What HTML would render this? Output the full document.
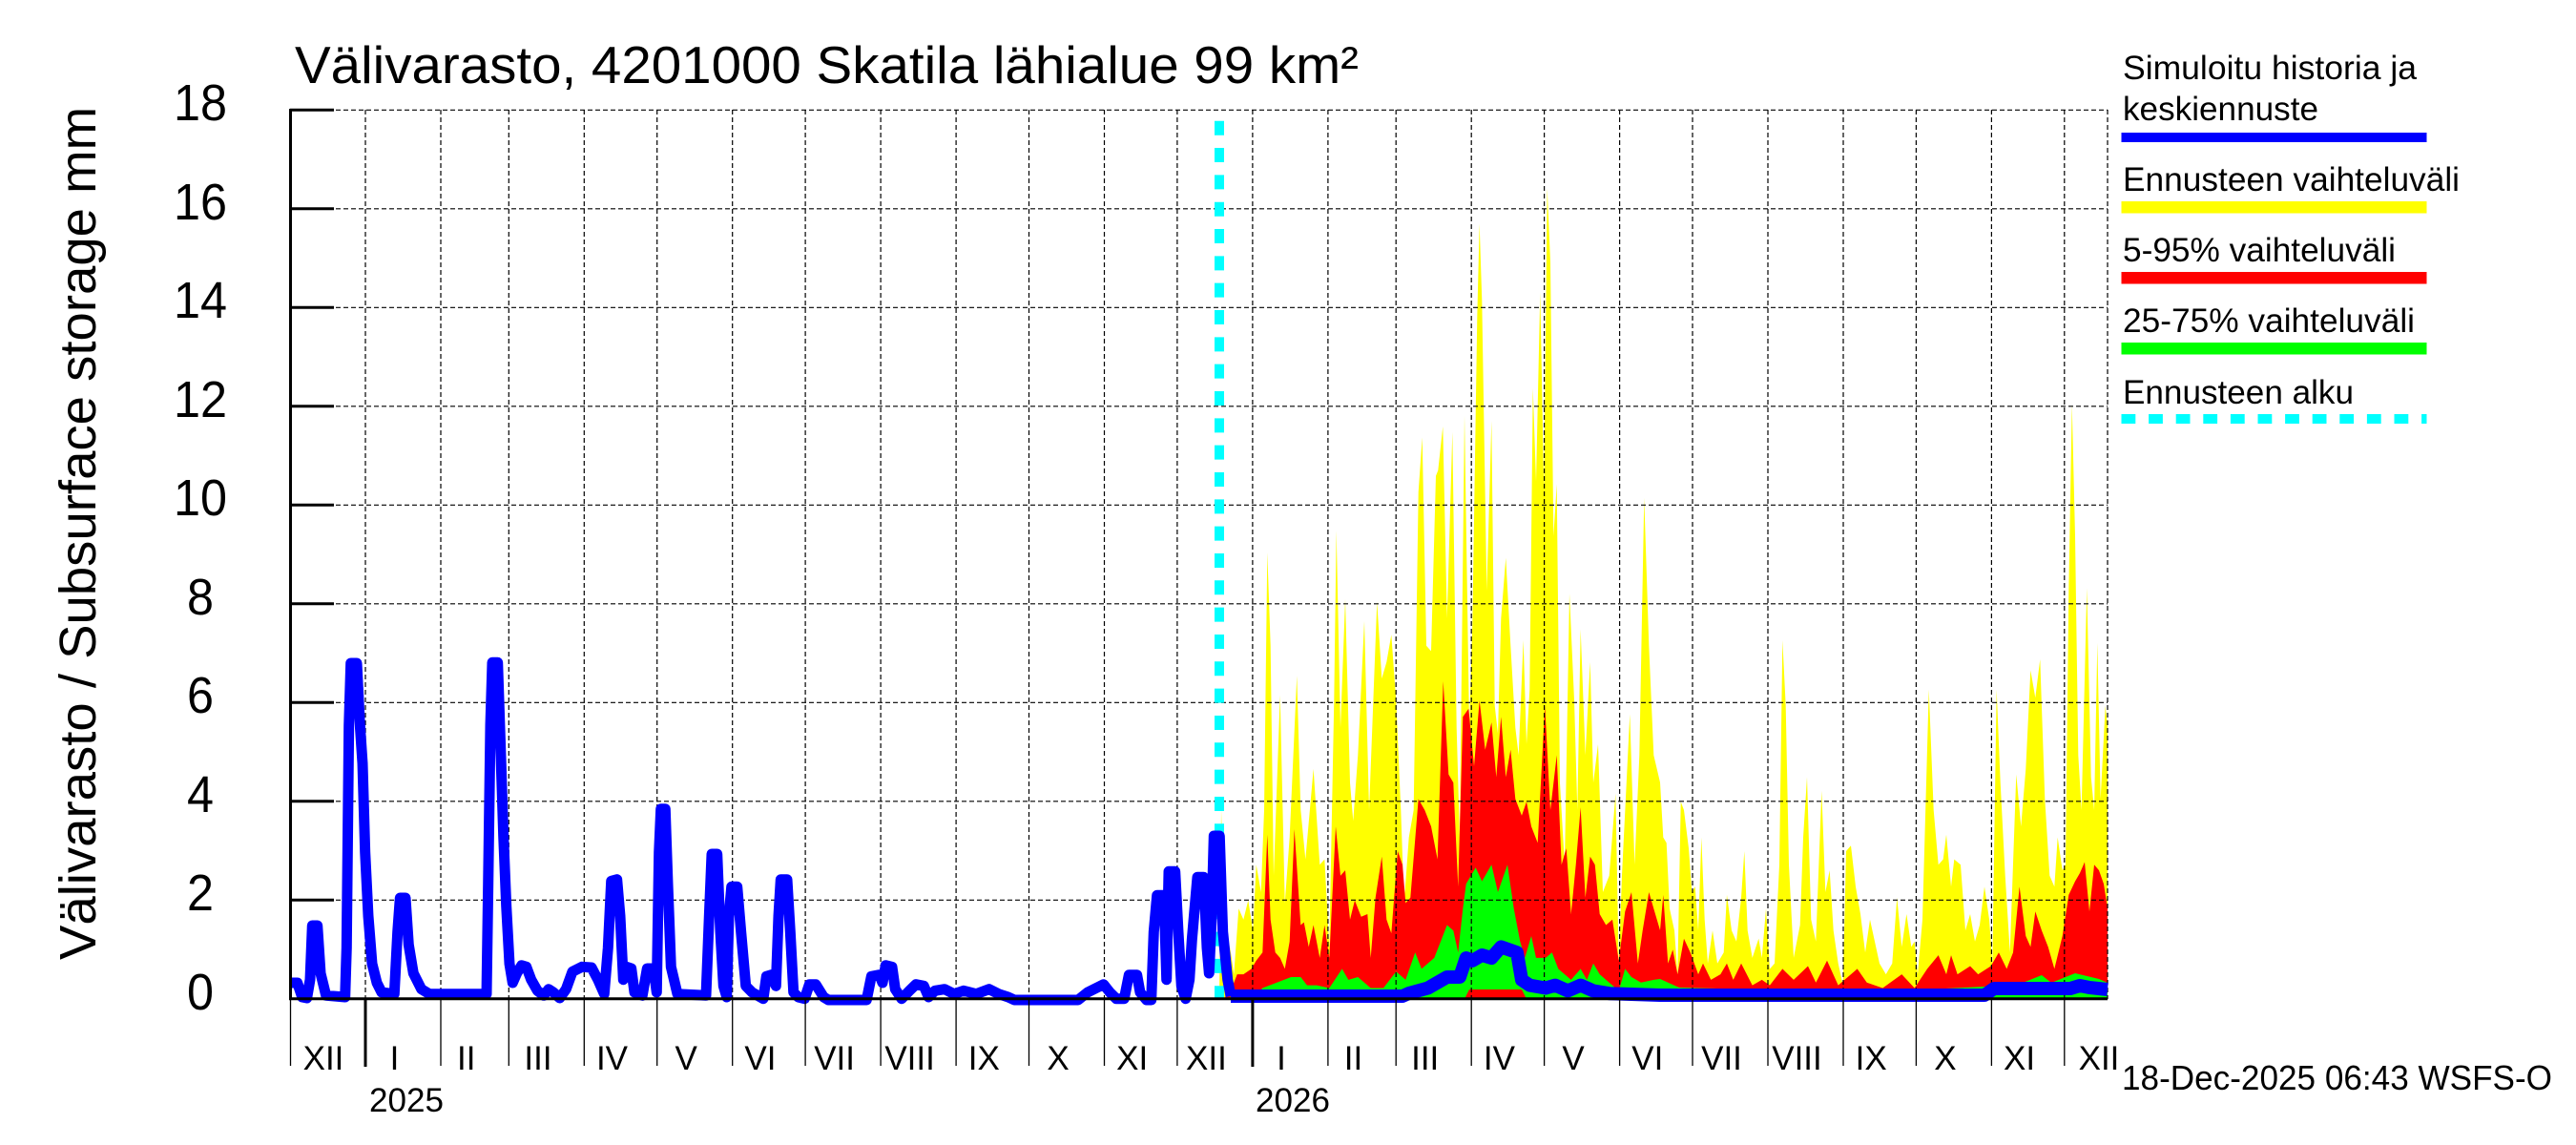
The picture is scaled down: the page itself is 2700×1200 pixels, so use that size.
<!DOCTYPE html>
<html><head><meta charset="utf-8"><style>
html,body{margin:0;padding:0;background:#fff;}
svg{display:block;}
text{font-family:"Liberation Sans",Arial,sans-serif;fill:#000;}
</style></head><body>
<svg width="2700" height="1200" viewBox="0 0 2700 1200" xmlns="http://www.w3.org/2000/svg">
<rect width="2700" height="1200" fill="#fff"/>

<!-- forecast bands -->
<path fill="#ffff00" d="M1278,1047 L1280,849 L1283.3,963.7 L1290,998.2 L1293.3,1021.1 L1298.3,952.3 L1303.3,963.7 L1308.3,943.6 L1313.3,975.2 L1316.7,906.3 L1321.7,935 L1325,849 L1328.3,579.1 L1331.7,676.7 L1335,917.8 L1341.7,728.4 L1346.7,946.5 L1351.7,877.6 L1359.3,708.3 L1363.3,849 L1368.3,900.6 L1376.7,805.9 L1383.3,906.3 L1388.3,900.6 L1393.3,992.4 L1398.3,734.1 L1400.7,556.1 L1405,762.8 L1410,627.9 L1415,820.2 L1418.3,860.4 L1423.3,791.5 L1430,650.9 L1435,849 L1438.3,762.8 L1443.3,630.8 L1448.3,711.1 L1453.3,693.9 L1458.3,665.2 L1463.3,734.1 L1468.3,849 L1471.7,946.5 L1476.7,877.6 L1481.7,849 L1486.7,515.9 L1490.7,458.5 L1495,676.7 L1500,682.4 L1505,498.7 L1507.3,493 L1512.3,447 L1516.7,648 L1522.3,452.8 L1526.7,762.8 L1530,877.6 L1535,435.6 L1540,762.8 L1543.3,653.7 L1548.3,332.2 L1550.7,234.6 L1553.3,315 L1558.3,619.3 L1563.3,441.3 L1566.7,739.8 L1570,768.5 L1573.3,648 L1578.3,584.8 L1583.3,676.7 L1588.3,762.8 L1591.7,791.5 L1596.7,671 L1600,780 L1603.3,722.6 L1606.7,406.9 L1610,504.5 L1614.3,306.4 L1618.3,515.9 L1621.7,197.3 L1625,274.8 L1628.3,561.9 L1631.7,507.3 L1635,820.2 L1640,906.3 L1645,622.2 L1650,734.1 L1653.3,849 L1656.7,659.5 L1661.7,791.5 L1666.7,693.9 L1670,820.2 L1675,780 L1680,935 L1686.7,917.8 L1693.3,831.7 L1696.7,1009.7 L1700,917.8 L1708.3,748.5 L1713.3,906.3 L1718.3,791.5 L1723.3,521.7 L1728.3,676.7 L1733.3,791.5 L1740,820 L1743.3,877.6 L1746.7,883.4 L1750,952.3 L1755,975.2 L1758.3,1021.1 L1761.7,840.3 L1765,849 L1770,889.1 L1773.3,935 L1776.7,929.3 L1780,975.2 L1783.3,877.6 L1786.7,963.7 L1790,1009.7 L1795,975.2 L1800,1009.7 L1806.7,998.2 L1810,937.9 L1815,975.2 L1820,986.7 L1825,940.8 L1828.3,892 L1831.7,975.2 L1836.7,1003.9 L1843.3,983.8 L1846.7,1003.9 L1851,952.3 L1855,1015.4 L1860,1009.7 L1865,906.3 L1868.3,671 L1871.7,739.8 L1875,906.3 L1880,1003.9 L1886.7,969.5 L1890,877.6 L1894,814.5 L1898.3,963.7 L1903.3,986.7 L1909.3,828.8 L1913.3,935 L1917.7,912.1 L1921.7,975.2 L1926.7,1009.7 L1931.7,1032.6 L1935,892 L1940,886.2 L1945,929.3 L1950,958 L1955,998.2 L1960,963.7 L1965,986.7 L1970,1009.7 L1976.7,1021.1 L1983.3,1009.7 L1988.3,940.8 L1993.3,992.4 L1998.3,958 L2003.3,992.4 L2006.7,986.7 L2010,1021.1 L2015,963.7 L2021.7,722.6 L2026.7,849 L2031.7,906.3 L2036.7,900.6 L2040,874.7 L2045,929.3 L2048.3,900.6 L2055,906.3 L2060,975.2 L2065,958 L2070,986.7 L2075,969.5 L2080,929.3 L2085,963.7 L2088.3,1009.7 L2092.7,722.6 L2096.7,820.2 L2101.7,917.8 L2106.7,998.2 L2113.3,811.6 L2118.3,866.1 L2123.3,805.9 L2128.3,702.5 L2133.3,731.2 L2138.3,691 L2143.3,837.4 L2148.3,917.8 L2153.3,929.3 L2156.7,877.6 L2161.7,912.1 L2165,906.3 L2168.3,619.3 L2171.7,424.1 L2175,561.9 L2178.3,791.5 L2181.7,849 L2187.3,616.4 L2191.7,814.5 L2195,849 L2198.3,673.8 L2201.7,837.4 L2206.7,739.8 L2209,760 L2209,1047 Z"/>

<path fill="#ff0000" d="M1284,1047 L1286,1035 L1290,1038.4 L1296.7,1021.1 L1303.3,1021.1 L1311.7,1015.4 L1316.7,1006.8 L1323.3,998.2 L1328.3,874.7 L1331.7,963.7 L1336.7,998.2 L1341.7,1003.9 L1346.7,1015.4 L1351.7,986.7 L1356.7,869 L1363.3,969.5 L1366.7,966.6 L1371.7,992.4 L1376.7,969.5 L1383.3,1003.9 L1388.3,969.5 L1393.3,1003.9 L1400,866.1 L1405,917.8 L1410,912.1 L1415,963.7 L1420,943.6 L1426.7,960.8 L1433.3,958 L1436.7,1003.9 L1441.7,940.8 L1448.3,897.7 L1453.3,963.7 L1458.3,978.1 L1465,892 L1470,906.3 L1473.3,946.5 L1478.3,940.8 L1486.7,837.4 L1493.3,849 L1500,866.1 L1506.7,900.6 L1512.7,714 L1518.3,811.6 L1523.3,820.2 L1528.3,929.3 L1533.3,751.3 L1539.3,742.7 L1545,803 L1550.7,734.1 L1556.7,785.8 L1563.3,757.1 L1568.3,814.5 L1573.3,751.3 L1578.3,814.5 L1583.3,785.8 L1588.3,837.4 L1595,854.7 L1600,840.3 L1605,866.1 L1611.7,883.4 L1619.3,739.8 L1625,849 L1631.7,791.5 L1636.7,906.3 L1641.7,889.1 L1646.7,958 L1651.7,906.3 L1656.7,846.1 L1661.7,940.8 L1666.7,897.7 L1671.7,906.3 L1676.7,958 L1683.3,969.5 L1690,963.7 L1696.7,1006.8 L1703.3,955.2 L1710,935 L1716.7,1009.7 L1721.7,975.2 L1728.3,935 L1733.3,952.3 L1740,975 L1743.3,937.9 L1748.3,1009.7 L1753.3,995.3 L1758.3,1021.1 L1765,983.8 L1771.7,998.2 L1780,1021.1 L1785,1009.7 L1793.3,1026.9 L1803.3,1021.1 L1810,1009.7 L1816.7,1026.9 L1825,1009.7 L1836.7,1032.6 L1846.7,1026.9 L1855,1032.6 L1868.3,1015.4 L1880,1026.9 L1895,1012.5 L1903.3,1029.8 L1915,1006.8 L1926.7,1032.6 L1946.7,1015.4 L1956.7,1029.8 L1973.3,1035.5 L1993.3,1021.1 L2006.7,1035.5 L2020,1015.4 L2031.7,1001.1 L2040,1021.1 L2045,1001.1 L2051.7,1021.1 L2065,1012.5 L2073.3,1021.1 L2086.7,1012.5 L2095,998.2 L2103.3,1015.4 L2110,998.2 L2116.7,929.3 L2123.3,981 L2128.3,992.4 L2133.3,955.2 L2140,975.2 L2146.7,992.4 L2153.3,1015.4 L2161.7,981 L2168.3,937.9 L2175,923.6 L2180,915 L2185,903.5 L2190,955.2 L2195,906.3 L2200,912.1 L2205,926.4 L2209,952.3 L2209,1047 Z"/>

<path fill="#00ff00" d="M1288,1047 L1290,1044.1 L1316.7,1044.1 L1323.3,1035.5 L1353.3,1024 L1363.3,1024 L1370,1032.6 L1380,1032.6 L1393.3,1035.5 L1406.7,1015.4 L1413.3,1026.9 L1423.3,1024 L1436.7,1035.5 L1450,1035.5 L1463.3,1018.3 L1473.3,1026.9 L1483.3,998.2 L1490,1015.4 L1503.3,1003.9 L1510,986.7 L1516.7,969.5 L1523.3,975.2 L1528.3,998.2 L1533.3,952.3 L1536.7,926.4 L1546.7,909.2 L1553.3,923.6 L1563.3,906.3 L1570,935 L1580,906.3 L1586.7,952.3 L1593.3,986.7 L1598.3,1003.9 L1605,981 L1610,1003.9 L1620,1003.9 L1626.7,998.2 L1633.3,1015.4 L1646.7,1026.9 L1656.7,1015.4 L1663.3,1026.9 L1670,1009.7 L1676.7,1021.1 L1683.3,1026.9 L1696.7,1038.4 L1703.3,1015.4 L1710,1024 L1720,1029.8 L1733.3,1026.9 L1740,1026 L1760,1035 L1800,1036 L1900,1038 L2000,1038 L2080,1034 L2100,1029 L2120,1030 L2140,1022 L2150,1030 L2165,1024 L2175,1020 L2200,1026 L2209,1030 L2209,1047 L1600,1047 L1595,1037 L1540,1037 L1535,1047 Z"/>

<!-- grid -->
<g stroke="#000" stroke-width="1.2" stroke-dasharray="5 3" fill="none">
<path d="M304,943.3H2209 M304,839.8H2209 M304,736.3H2209 M304,632.8H2209 M304,529.3H2209 M304,425.8H2209 M304,322.3H2209 M304,218.8H2209 M304,115.3H2209"/>
<path d="M383,115V1047 M462,115V1047 M533.3,115V1047 M612.3,115V1047 M688.7,115V1047 M767.7,115V1047 M844.1,115V1047 M923.1,115V1047 M1002.1,115V1047 M1078.5,115V1047 M1157.5,115V1047 M1233.9,115V1047 M1312.9,115V1047 M1391.9,115V1047 M1463.2,115V1047 M1542.2,115V1047 M1618.6,115V1047 M1697.6,115V1047 M1774,115V1047 M1853,115V1047 M1932,115V1047 M2008.4,115V1047 M2087.4,115V1047 M2163.8,115V1047 M2209,115V1047"/>
</g>

<!-- forecast start -->
<line x1="1278" y1="126.7" x2="1278" y2="1047" stroke="#00ffff" stroke-width="10" stroke-dasharray="15 13.33"/>

<!-- simulated line -->
<path fill="none" stroke="#0000ff" stroke-width="11" stroke-linejoin="round" d="M304,1030 L311.7,1030 L316.7,1045 L321.7,1046 L325,1026.7 L327.3,970 L332.7,970 L336,1020 L341.7,1043.3 L361.7,1045 L363.3,993.3 L365.7,760 L367.7,695 L374,695 L377.3,760 L380,800 L382.7,893.3 L386,960 L390,1010 L395,1030 L400,1040 L413.3,1041.7 L416.7,976.7 L419.3,941 L425,941 L428.3,990 L433.3,1020 L441.7,1036.7 L450,1041.7 L510,1041.7 L511.7,926.7 L514,760 L516,694.3 L521.7,694.3 L525,793.3 L527.7,876.7 L530.7,950 L534,1010 L537.3,1030 L541.7,1020 L546.7,1011.7 L551.7,1013.3 L556.7,1026.7 L563.3,1038.3 L570,1043.3 L575,1036.7 L580,1040 L586.7,1046 L593.3,1036.7 L600,1018.3 L610,1013.3 L620,1014 L626.7,1026.7 L633.3,1041.7 L637.3,993.3 L640.7,923.3 L646.7,921.7 L650,960 L653.3,1026.7 L656.7,1013.3 L661.7,1015 L665,1040 L673.3,1043.3 L678.3,1015 L685,1015 L688.3,1040 L690.7,893.3 L692.7,847.7 L697.3,847.7 L700,926.7 L703.3,1013.3 L710,1041.7 L740,1043.3 L743.3,960 L746,895 L751.7,895 L755,976.7 L758.3,1033.3 L761.7,1045 L764,960 L766.7,929.3 L772.7,929.3 L776.7,976.7 L781.7,1033.3 L788.3,1040 L800,1046.7 L803.3,1023.3 L808.3,1021.7 L813.3,1033.3 L816,960 L818.3,921.7 L825,921.7 L828.3,976.7 L831.7,1040 L836.7,1045 L843.3,1046.7 L848.3,1031.7 L855,1031.7 L863.3,1045 L868.3,1048 L908.3,1048 L913.3,1023.3 L921.7,1021.7 L925,1030 L928.3,1011.7 L935,1013.3 L938.3,1036.7 L945,1046.7 L953.3,1038.3 L960,1031.7 L968.3,1033.3 L973.3,1045 L980,1038.3 L990,1036.7 L1000,1041.7 L1010,1038.3 L1023.3,1041.7 L1036.7,1036.7 L1046.7,1041.7 L1056.7,1045 L1063.3,1048 L1130,1048 L1140,1040 L1150,1035 L1156.7,1031.7 L1163.3,1040 L1170,1046.7 L1178.3,1046.7 L1183.3,1021.7 L1191.7,1021.7 L1195,1040 L1201.7,1048 L1206.7,1048 L1209.3,976.7 L1212.7,938.3 L1220,938.3 L1222.7,1026.7 L1225,913.3 L1231.7,913.3 L1235,976.7 L1238.3,1033.3 L1242.7,1046.7 L1246.7,1026.7 L1249.3,985 L1255,919.3 L1261.7,919.3 L1265,993.3 L1267.3,1020 L1270,960 L1272.3,876 L1278.3,876 L1281.7,976.7 L1286.7,1026.7 L1290,1044"/>
<path fill="none" stroke="#0000ff" stroke-width="14" stroke-linejoin="round" d="M1290,1044 L1470,1044 L1476.7,1041 L1496.7,1035.5 L1516.7,1024 L1530,1024 L1536.7,1004 L1543.3,1006.8 L1553.3,1001 L1563.3,1004 L1573.3,992.4 L1590,998.2 L1595,1027 L1603.3,1032.6 L1620,1035.5 L1630,1032.6 L1643.3,1038.4 L1656.7,1032.6 L1670,1038.4 L1686.7,1041.2 L1740,1043 L2080,1043 L2090,1036 L2170,1036 L2180,1033 L2190,1035 L2209,1037"/>

<!-- axes -->
<g stroke="#000" fill="none">
<line x1="304.5" y1="114" x2="304.5" y2="1048" stroke-width="3"/>
<line x1="304.5" y1="1047" x2="304.5" y2="1117" stroke-width="1.3"/>
<line x1="303" y1="1046.8" x2="2209" y2="1046.8" stroke-width="3"/>
<path stroke-width="3" d="M304,943.3H350 M304,839.8H350 M304,736.3H350 M304,632.8H350 M304,529.3H350 M304,425.8H350 M304,322.3H350 M304,218.8H350 M304,115.3H350"/>
<path stroke-width="1.3" d="M462,1047V1117 M533.3,1047V1117 M612.3,1047V1117 M688.7,1047V1117 M767.7,1047V1117 M844.1,1047V1117 M923.1,1047V1117 M1002.1,1047V1117 M1078.5,1047V1117 M1157.5,1047V1117 M1233.9,1047V1117 M1391.9,1047V1117 M1463.2,1047V1117 M1542.2,1047V1117 M1618.6,1047V1117 M1697.6,1047V1117 M1774,1047V1117 M1853,1047V1117 M1932,1047V1117 M2008.4,1047V1117 M2087.4,1047V1117 M2163.8,1047V1117"/>
<path stroke-width="3" d="M383,1047V1118 M1312.9,1047V1118"/>
</g>

<!-- title -->
<text x="309" y="87" font-size="55" textLength="1115" lengthAdjust="spacingAndGlyphs">Välivarasto, 4201000 Skatila lähialue 99 km²</text>

<!-- y label -->
<text transform="translate(100,559) rotate(-90)" text-anchor="middle" font-size="54" textLength="894" lengthAdjust="spacingAndGlyphs">Välivarasto / Subsurface storage  mm</text>

<!-- y tick labels -->
<g font-size="54" text-anchor="middle">
<text x="210" y="1058" textLength="28" lengthAdjust="spacingAndGlyphs">0</text>
<text x="210" y="954" textLength="28" lengthAdjust="spacingAndGlyphs">2</text>
<text x="210" y="851" textLength="28" lengthAdjust="spacingAndGlyphs">4</text>
<text x="210" y="747" textLength="28" lengthAdjust="spacingAndGlyphs">6</text>
<text x="210" y="644" textLength="28" lengthAdjust="spacingAndGlyphs">8</text>
<text x="210" y="540" textLength="56" lengthAdjust="spacingAndGlyphs">10</text>
<text x="210" y="437" textLength="56" lengthAdjust="spacingAndGlyphs">12</text>
<text x="210" y="333" textLength="56" lengthAdjust="spacingAndGlyphs">14</text>
<text x="210" y="230" textLength="56" lengthAdjust="spacingAndGlyphs">16</text>
<text x="210" y="126" textLength="56" lengthAdjust="spacingAndGlyphs">18</text>
</g>

<!-- month labels -->
<g font-size="35" text-anchor="middle">
<text x="339" y="1121">XII</text>
<text x="413.5" y="1121">I</text>
<text x="488.7" y="1121">II</text>
<text x="564" y="1121">III</text>
<text x="641.5" y="1121">IV</text>
<text x="719.2" y="1121">V</text>
<text x="796.9" y="1121">VI</text>
<text x="874.6" y="1121">VII</text>
<text x="953.6" y="1121">VIII</text>
<text x="1031.3" y="1121">IX</text>
<text x="1109" y="1121">X</text>
<text x="1186.7" y="1121">XI</text>
<text x="1264.4" y="1121">XII</text>
<text x="1343" y="1121">I</text>
<text x="1418.5" y="1121">II</text>
<text x="1493.7" y="1121">III</text>
<text x="1571.4" y="1121">IV</text>
<text x="1649" y="1121">V</text>
<text x="1726.8" y="1121">VI</text>
<text x="1804.5" y="1121">VII</text>
<text x="1883.5" y="1121">VIII</text>
<text x="1961.2" y="1121">IX</text>
<text x="2038.9" y="1121">X</text>
<text x="2116.6" y="1121">XI</text>
<text x="2200" y="1121">XII</text>
</g>
<g font-size="35">
<text x="387" y="1165" textLength="78" lengthAdjust="spacingAndGlyphs">2025</text>
<text x="1316" y="1165" textLength="78" lengthAdjust="spacingAndGlyphs">2026</text>
</g>

<!-- timestamp -->
<text x="2224" y="1142" font-size="36" textLength="451" lengthAdjust="spacingAndGlyphs">18-Dec-2025 06:43 WSFS-O</text>

<!-- legend -->
<g font-size="35">
<text x="2225" y="83" textLength="308" lengthAdjust="spacingAndGlyphs">Simuloitu historia ja</text>
<text x="2225" y="126" textLength="205" lengthAdjust="spacingAndGlyphs">keskiennuste</text>
<text x="2225" y="200" textLength="353" lengthAdjust="spacingAndGlyphs">Ennusteen vaihteluväli</text>
<text x="2225" y="274" textLength="286" lengthAdjust="spacingAndGlyphs">5-95% vaihteluväli</text>
<text x="2225" y="348" textLength="306" lengthAdjust="spacingAndGlyphs">25-75% vaihteluväli</text>
<text x="2225" y="423" textLength="242" lengthAdjust="spacingAndGlyphs">Ennusteen alku</text>
</g>
<rect x="2223.5" y="139" width="320" height="10" fill="#0000ff"/>
<rect x="2223.5" y="211" width="320" height="12.5" fill="#ffff00"/>
<rect x="2223.5" y="285" width="320" height="12.5" fill="#ff0000"/>
<rect x="2223.5" y="359" width="320" height="12.5" fill="#00ff00"/>
<line x1="2223.5" y1="439" x2="2543.5" y2="439" stroke="#00ffff" stroke-width="10" stroke-dasharray="14.8 13.8"/>
</svg>
</body></html>
